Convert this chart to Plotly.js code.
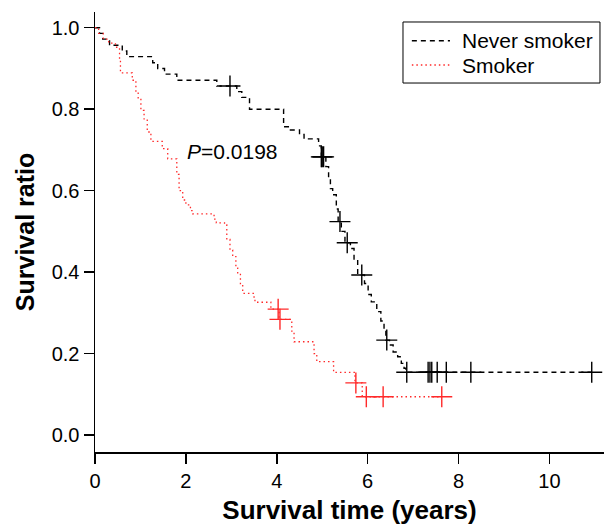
<!DOCTYPE html>
<html>
<head>
<meta charset="utf-8">
<script src="https://cdn.plot.ly/plotly-3.0.1.min.js"></script>
<style>
  html, body { margin: 0; padding: 0; background: #fff; }
  #chart { width: 604px; height: 525px; }
</style>
</head>
<body>
<div id="chart"></div>
<script>
// Kaplan-Meier step data
const seriesNames = ["Never smoker", "Smoker"];

const neverTime = [0, 0.10, 0.17, 0.32, 0.60, 0.70, 1.27, 1.38, 1.53, 1.80, 2.68, 3.12, 3.23, 3.40, 4.15, 4.30, 4.50, 4.60, 4.92, 4.98,
  5.08, 5.14, 5.18, 5.23, 5.31, 5.35, 5.42, 5.50, 5.62, 5.70, 5.78, 5.93, 6.01, 6.08, 6.20, 6.29, 6.36, 6.40, 6.48, 6.56, 6.66, 6.74, 6.80, 6.84, 10.93];
const neverSurv = [1.0, 0.986, 0.972, 0.957, 0.943, 0.929, 0.914, 0.900, 0.886, 0.871, 0.857, 0.843, 0.829, 0.800, 0.757, 0.749, 0.738, 0.727, 0.710, 0.683,
  0.659, 0.632, 0.605, 0.590, 0.555, 0.524, 0.500, 0.472, 0.458, 0.430, 0.393, 0.372, 0.345, 0.327, 0.303, 0.280, 0.258, 0.233, 0.221, 0.204, 0.192, 0.176, 0.164, 0.154, 0.154];
const neverCensorTime = [2.97, 4.98, 5.00, 5.03, 5.39, 5.55, 5.87, 6.42, 6.86, 7.33, 7.37, 7.41, 7.53, 7.73, 8.27, 10.93];
const neverCensorSurv = [0.857, 0.683, 0.683, 0.683, 0.524, 0.472, 0.393, 0.233, 0.154, 0.154, 0.154, 0.154, 0.154, 0.154, 0.154, 0.154];

const smokerTime = [0, 0.08, 0.18, 0.30, 0.45, 0.54, 0.56, 0.82, 0.90, 0.95, 1.01, 1.08, 1.15, 1.23, 1.48, 1.60, 1.80, 1.85, 1.93, 2.00, 2.10, 2.15,
  2.62, 2.67, 2.85, 2.90, 2.97, 3.03, 3.10, 3.14, 3.20, 3.25, 3.50, 3.52, 3.87, 4.05, 4.33, 4.38, 4.82, 4.88, 5.25, 5.72, 5.88, 7.63];
const smokerSurv = [1.0, 0.986, 0.972, 0.962, 0.952, 0.920, 0.889, 0.871, 0.842, 0.826, 0.797, 0.776, 0.744, 0.721, 0.703, 0.678, 0.640, 0.600, 0.577, 0.565, 0.551, 0.543,
  0.530, 0.521, 0.516, 0.480, 0.454, 0.438, 0.410, 0.398, 0.370, 0.348, 0.336, 0.326, 0.309, 0.284, 0.255, 0.229, 0.200, 0.180, 0.154, 0.128, 0.094, 0.094];
const smokerCensorTime = [4.03, 4.07, 5.74, 5.97, 6.34, 7.63];
const smokerCensorSurv = [0.309, 0.284, 0.128, 0.094, 0.094, 0.094];

const pLabel = "<i>P</i>=0.0198";
const pPos = [1.98, 0.695];

const xTicks = [0, 2, 4, 6, 8, 10];
const yTicks = [0.0, 0.2, 0.4, 0.6, 0.8, 1.0];

const FONT = "'Liberation Sans', Arial, Helvetica, sans-serif";
const RED = "#ff2a2a";
const BLACK_DASH = "5px,4px";
const RED_DOT = "1.5px,3px";
const seriesColors = ["#000", RED];
const seriesDash = [BLACK_DASH, RED_DOT];

const traces = [
  { x: neverTime, y: neverSurv, type: "scatter", mode: "lines", name: seriesNames[0], showlegend: false,
    line: { shape: "hv", color: "#000", width: 1.4, dash: BLACK_DASH } },
  { x: smokerTime, y: smokerSurv, type: "scatter", mode: "lines", name: seriesNames[1], showlegend: false,
    line: { shape: "hv", color: RED, width: 1.3, dash: RED_DOT } },
  { x: neverCensorTime, y: neverCensorSurv, type: "scatter", mode: "markers", name: seriesNames[0] + " (censored)", showlegend: false,
    marker: { symbol: "cross-thin", size: 15, color: "#000", line: { color: "#000", width: 1.4 } } },
  { x: smokerCensorTime, y: smokerCensorSurv, type: "scatter", mode: "markers", name: seriesNames[1] + " (censored)", showlegend: false,
    marker: { symbol: "cross-thin", size: 15, color: RED, line: { color: RED, width: 1.4 } } }
];

// Legend box (paper coordinates of the plot area)
const legBox = { x0: 0.6051, x1: 0.9921, y0: 0.8386, y1: 0.9773 };
const legRowsY = [0.9348, 0.8795];
const legLineX = [0.6225, 0.6974];
const legTextX = 0.7171;

const shapes = [
  { type: "rect", xref: "paper", yref: "paper", x0: legBox.x0, x1: legBox.x1, y0: legBox.y0, y1: legBox.y1,
    line: { color: "#000", width: 1 }, fillcolor: "#fff", layer: "above" }
];
const annotations = [
  { x: pPos[0], y: pPos[1], xref: "x", yref: "y", text: pLabel, showarrow: false,
    xanchor: "left", yanchor: "middle", font: { family: FONT, size: 21, color: "#000" } }
];
seriesNames.forEach((nm, i) => {
  shapes.push({ type: "line", xref: "paper", yref: "paper", x0: legLineX[0], x1: legLineX[1],
    y0: legRowsY[i], y1: legRowsY[i], line: { color: seriesColors[i], width: 1.4, dash: seriesDash[i] }, layer: "above" });
  annotations.push({ x: legTextX, y: legRowsY[i], xref: "paper", yref: "paper", text: nm, showarrow: false,
    xanchor: "left", yanchor: "middle", font: { family: FONT, size: 21, color: "#000" } });
});

const layout = {
  width: 604, height: 525,
  margin: { l: 95, r: 0, t: 12, b: 73 },
  paper_bgcolor: "#fff", plot_bgcolor: "#fff",
  font: { family: FONT, color: "#000", size: 20 },
  showlegend: false,
  xaxis: {
    range: [0, 11.2], tickvals: xTicks, ticktext: xTicks.map(String),
    showgrid: false, zeroline: false, showline: true, linecolor: "#000", linewidth: 1.5,
    ticks: "outside", ticklen: 10, tickwidth: 1.5, tickcolor: "#000",
    tickfont: { family: FONT, size: 20 },
    title: { text: "<b>Survival time (years)</b>", font: { family: FONT, size: 26 }, standoff: 14 }
  },
  yaxis: {
    range: [-0.0417, 1.0386], tickvals: yTicks, ticktext: yTicks.map(v => v.toFixed(1)),
    showgrid: false, zeroline: false, showline: true, linecolor: "#000", linewidth: 1.5,
    ticks: "outside", ticklen: 10, tickwidth: 1.5, tickcolor: "#000",
    tickfont: { family: FONT, size: 20 },
    title: { text: "<b>Survival ratio</b>", font: { family: FONT, size: 25 }, standoff: 10 }
  },
  shapes: shapes,
  annotations: annotations
};

Plotly.newPlot("chart", traces, layout, { displayModeBar: false, staticPlot: true });
</script>
</body>
</html>
